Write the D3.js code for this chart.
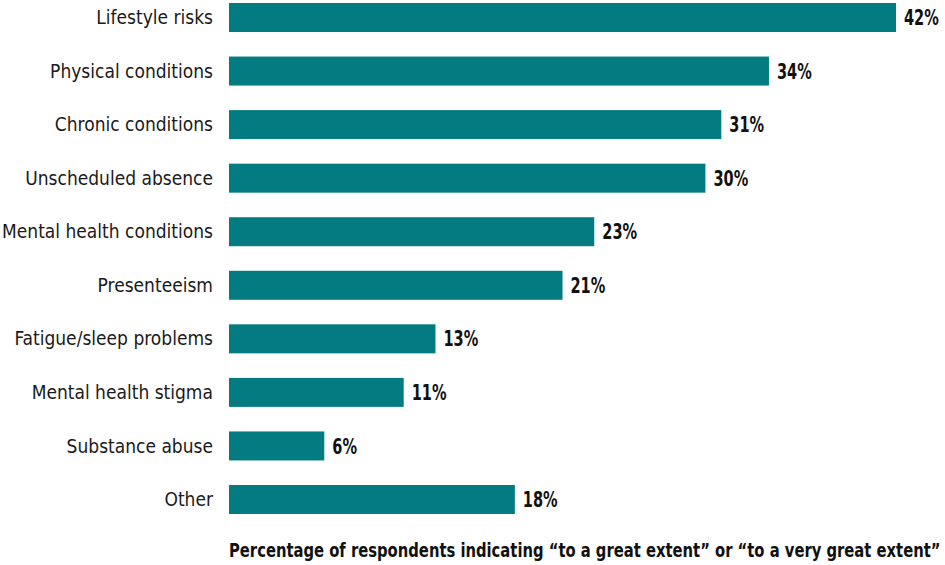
<!DOCTYPE html>
<html>
<head>
<meta charset="utf-8">
<script src="https://cdn.jsdelivr.net/npm/d3@7"></script>
<style>
  body { margin: 0; background: #fff; }
  .cat { font-family: "Liberation Sans Narrow", "DejaVu Sans Condensed", "Roboto Condensed", sans-serif; font-size: 19px; fill: #1a1a1a; }
  .val { font-family: "Liberation Sans Narrow", "DejaVu Sans Condensed", sans-serif; font-size: 21px; font-weight: bold; fill: #111; }
  .axis-title { font-family: "Liberation Sans Narrow", "DejaVu Sans Condensed", sans-serif; font-size: 19px; font-weight: bold; fill: #111; }
</style>
</head>
<body>
<div class="chart"></div>
<script>
// data
var categories = ["Lifestyle risks", "Physical conditions", "Chronic conditions", "Unscheduled absence",
  "Mental health conditions", "Presenteeism", "Fatigue/sleep problems", "Mental health stigma",
  "Substance abuse", "Other"];
var values = [42, 34, 31, 30, 23, 21, 13, 11, 6, 18];

var svgWidth = 945;
var svgHeight = 565;

var margin = { top: 3, left: 229 };

var svg = d3.select(".chart")
  .append("svg")
  .attr("width", svgWidth)
  .attr("height", svgHeight);

var chartGroup = svg.append("g")
  .attr("transform", `translate(${margin.left}, ${margin.top})`);

var xScale = d3.scaleLinear()
  .domain([0, 42])
  .range([0, 667]);

var yScale = d3.scaleBand()
  .domain(categories)
  .range([0, 511])
  .paddingInner(0.4586)
  .paddingOuter(0);

var rows = categories.map((c, i) => ({ cat: c, val: values[i] }));

// bars
chartGroup.selectAll("rect")
  .data(rows)
  .enter()
  .append("rect")
  .attr("x", 0)
  .attr("y", d => yScale(d.cat))
  .attr("width", d => xScale(d.val))
  .attr("height", yScale.bandwidth())
  .attr("fill", "#037B80");

// category labels
chartGroup.selectAll(".cat")
  .data(rows)
  .enter()
  .append("text")
  .attr("class", "cat")
  .attr("x", -16)
  .attr("y", d => yScale(d.cat) + yScale.bandwidth() / 2)
  .attr("dy", "0.35em")
  .attr("text-anchor", "end")
  .text(d => d.cat);

// value labels, squeezed horizontally to look like a condensed bold face
chartGroup.selectAll(".val")
  .data(rows)
  .enter()
  .append("text")
  .attr("class", "val")
  .attr("dy", "0.36em")
  .attr("transform", d => `translate(${xScale(d.val) + 8}, ${yScale(d.cat) + yScale.bandwidth() / 2}) scale(0.77, 1)`)
  .text(d => d.val + "%");

// axis title
var title = svg.append("text")
  .attr("class", "axis-title")
  .text("Percentage of respondents indicating \u201cto a great extent\u201d or \u201cto a very great extent\u201d");
var titleLen = title.node().getComputedTextLength();
title.attr("transform", `translate(${margin.left}, 557) scale(${712 / titleLen}, 1)`);
</script>
</body>
</html>
